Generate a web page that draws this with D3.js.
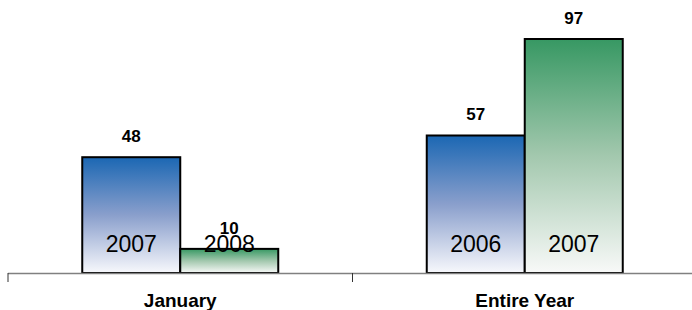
<!DOCTYPE html>
<html>
<head>
<meta charset="utf-8">
<script src="https://cdn.jsdelivr.net/npm/d3@7"></script>
<style>
  body { margin: 0; background: #fff; }
  svg { display: block; font-family: "Liberation Sans", Arial, sans-serif; }
</style>
</head>
<body>
<div id="chart"></div>
<script>
// Chart data
const categories = ['January', 'Entire Year'];
const barYears = [['2007', '2008'], ['2006', '2007']];
const barValues = [[48, 10], [57, 97]];
const barColors = [['blue', 'green'], ['blue', 'green']];

const width = 692, height = 310;
const margin = { top: 39, right: 0, bottom: 37, left: 8 };

const svg = d3.select('#chart').append('svg')
    .attr('width', width)
    .attr('height', height);

// Gradients: strong colour at top fading to near white
const defs = svg.append('defs');
const gradientStops = {
    blue: ['#1b67b3', '#8a9fcc', '#f7f8fc'],
    green: ['#379863', '#a3c8ae', '#f8f9f8']
};
Object.entries(gradientStops).forEach(([name, stops]) => {
    const g = defs.append('linearGradient')
        .attr('id', 'grad-' + name)
        .attr('x1', 0).attr('y1', 0).attr('x2', 0).attr('y2', 1);
    g.append('stop').attr('offset', '0%').attr('stop-color', stops[0]);
    g.append('stop').attr('offset', '50%').attr('stop-color', stops[1]);
    g.append('stop').attr('offset', '100%').attr('stop-color', stops[2]);
});

const baseY = height - margin.bottom;

const x = d3.scaleBand()
    .domain(categories)
    .range([margin.left, margin.left + 2 * 344.5]);

const y = d3.scaleLinear()
    .domain([0, 97])
    .range([baseY, margin.top]);

const barWidth = 98;

const groups = svg.selectAll('.group')
    .data(categories)
    .join('g')
    .attr('class', 'group');

groups.each(function(cat, ci) {
    const g = d3.select(this);
    const center = x(cat) + x.bandwidth() / 2;
    barValues[ci].forEach((v, bi) => {
        const bx = center - barWidth + bi * barWidth;
        g.append('rect')
            .attr('x', bx)
            .attr('y', y(v))
            .attr('width', barWidth)
            .attr('height', baseY - y(v))
            .attr('fill', `url(#grad-${barColors[ci][bi]})`)
            .attr('stroke', '#000')
            .attr('stroke-width', 2);
        g.append('text')
            .attr('x', bx + barWidth / 2)
            .attr('y', y(v) - 15)
            .attr('text-anchor', 'middle')
            .style('font-size', '17px')
            .style('font-weight', 'bold')
            .text(v);
        g.append('text')
            .attr('x', bx + barWidth / 2)
            .attr('y', baseY - 21.5)
            .attr('text-anchor', 'middle')
            .style('font-size', '23px')
            .text(barYears[ci][bi]);
    });
});

// Category axis
svg.append('line')
    .attr('x1', margin.left).attr('x2', width)
    .attr('y1', baseY + 0.5).attr('y2', baseY + 0.5)
    .attr('stroke', '#808080')
    .attr('stroke-width', 1.5);

const tickXs = categories.map(c => x(c));
svg.selectAll('.tick')
    .data(tickXs)
    .join('line')
    .attr('x1', d => d).attr('x2', d => d)
    .attr('y1', baseY).attr('y2', baseY + 9)
    .attr('stroke', '#333')
    .attr('stroke-width', 1);

svg.selectAll('.cat-label')
    .data(categories)
    .join('text')
    .attr('x', d => x(d) + x.bandwidth() / 2)
    .attr('y', baseY + 33.5)
    .attr('text-anchor', 'middle')
    .style('font-size', '19px')
    .style('font-weight', 'bold')
    .text(d => d);
</script>
</body>
</html>
